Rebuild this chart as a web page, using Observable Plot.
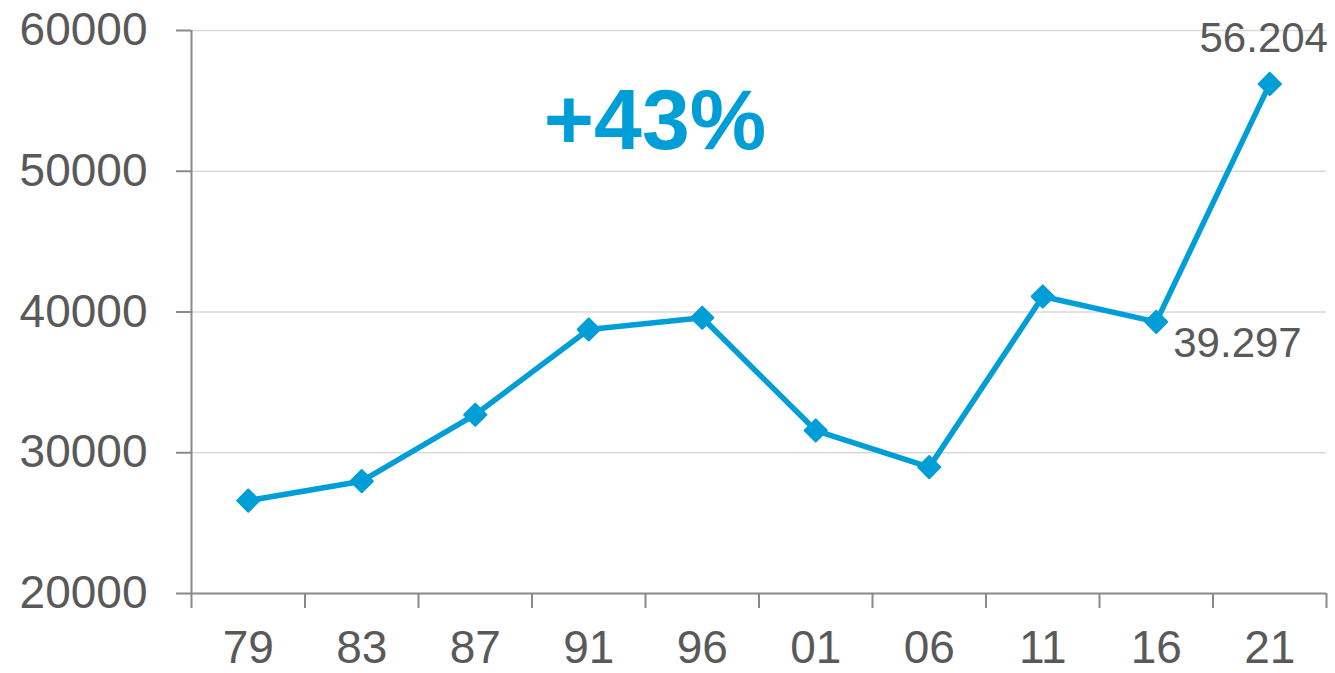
<!DOCTYPE html>
<html><head><meta charset="utf-8">
<script src="https://cdn.jsdelivr.net/npm/d3@7"></script>
<script src="https://cdn.jsdelivr.net/npm/@observablehq/plot@0.6"></script>
<style>html,body{margin:0;padding:0;background:#fff;} svg{display:block}</style>
</head><body><div id="chart"></div>
<script>
const years = ["79","83","87","91","96","01","06","11","16","21"];
const values = [26600, 27980, 32700, 38760, 39590, 31580, 28980, 41100, 39297, 56204];
const yTicks = [20000, 30000, 40000, 50000, 60000];
const annotation = ["+43%"];

const data = years.map((year, i) => ({i, year, value: values[i]}));
const fmt = d3.formatLocale({decimal: ",", thousands: ".", grouping: [3], currency: ["", "€"]}).format(",");
const boundaries = d3.range(years.length + 1).map(k => k - 0.5);
const centers = d3.range(years.length);

const blue = "#009ED6";
const axisGrey = "#898989";
const textGrey = "#595959";

const chart = Plot.plot({
  width: 1335, height: 673,
  marginLeft: 191, marginRight: 9, marginTop: 30, marginBottom: 80,
  style: {fontFamily: "'Liberation Sans', Arial, sans-serif", color: textGrey, background: "#fff", overflow: "visible"},
  x: {type: "linear", domain: [-0.5, years.length - 0.5], axis: null},
  y: {domain: [20000, 60000], axis: null},
  marks: [
    Plot.gridY(yTicks.slice(1), {stroke: "#D9D9D9", strokeOpacity: 1, strokeWidth: 1.5}),
    Plot.ruleY([20000], {stroke: axisGrey, strokeWidth: 2}),
    Plot.ruleX([-0.5], {stroke: axisGrey, strokeWidth: 2}),
    Plot.axisY(yTicks, {tickSize: 15, tickPadding: 29, fontSize: 46, stroke: axisGrey, strokeWidth: 2, fill: textGrey, tickFormat: d => String(d), label: null}),
    Plot.axisX(boundaries, {tickSize: 15, text: null, stroke: axisGrey, strokeWidth: 2, label: null}),
    Plot.axisX(centers, {tickSize: 0, tickPadding: 37, fontSize: 46, fill: textGrey, tickFormat: i => years[i], label: null}),
    Plot.line(data, {x: "i", y: "value", stroke: blue, strokeWidth: 5.5, strokeLinejoin: "round"}),
    Plot.dot(data, {x: "i", y: "value", symbol: "diamond2", r: 10, fill: blue, stroke: blue, strokeWidth: 2, strokeLinejoin: "round"}),
    Plot.text(data.filter(d => d.year === "21"), {x: "i", y: "value", text: d => fmt(d.value), fontSize: 42, fill: textGrey, dx: -6, dy: -45, lineAnchor: "middle"}),
    Plot.text(data.filter(d => d.year === "16"), {x: "i", y: "value", text: d => fmt(d.value), fontSize: 42, fill: textGrey, textAnchor: "start", dx: 17, dy: 22, lineAnchor: "middle"}),
    Plot.text(annotation, {frameAnchor: "top", dx: -104, dy: 57, fontSize: 86, fontWeight: "bold", fill: blue, lineAnchor: "top"})
  ]
});
document.getElementById("chart").appendChild(chart);
</script>
</body></html>
